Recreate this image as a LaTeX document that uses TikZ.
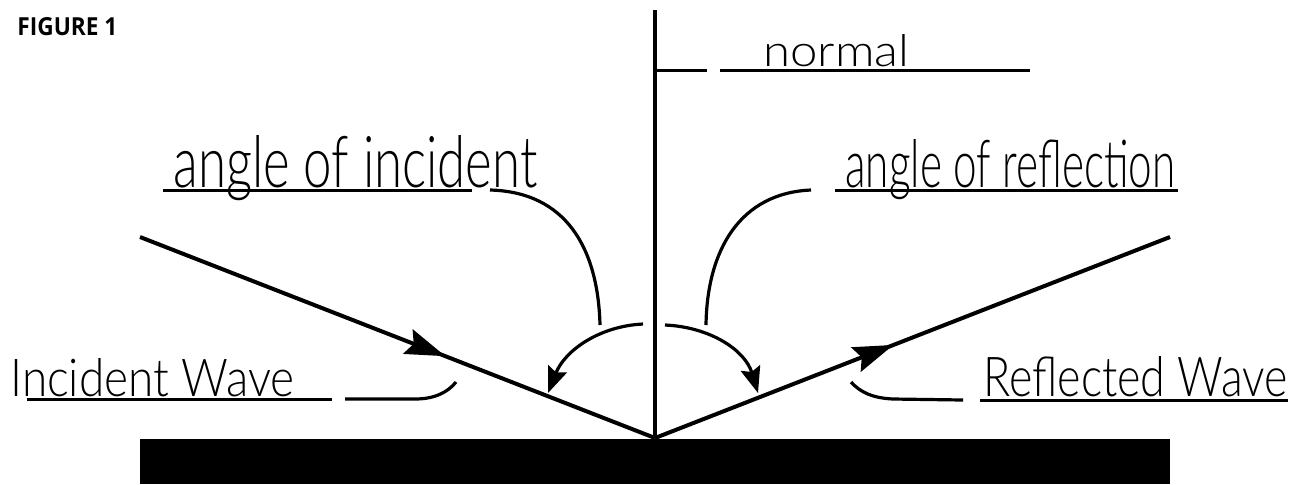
\documentclass[tikz,border=0pt]{standalone}
\usepackage{fontspec}
\setmainfont{Lato}
\newfontfamily\handfont{Lato Light}
\newfontfamily\figfont{Open Sans}
\usetikzlibrary{arrows.meta,decorations.markings}
\begin{document}
\begin{tikzpicture}[x=0.5pt,y=-0.5pt,
  ray/.style={line width=2pt},
  lbl/.style={line width=1.6pt},
  uline/.style={line width=1.5pt},
  hand/.style={inner sep=0pt, anchor=base west, font=\handfont},
  midarrow/.style={postaction={decorate}, decoration={markings, mark=at position #1 with {\arrow{Stealth[length=20pt,width=13pt,inset=3pt]}}}},
  bend tip/.style={-{Stealth[length=13pt,width=10pt,inset=2pt]}}
]
\useasboundingbox (0,0) rectangle (1293,484);

% surface
\fill[black] (140,439) rectangle (1170,484);

% key points
\coordinate (P) at (655,438);
\coordinate (ntop) at (655,10);
\coordinate (inc) at (140,237);
\coordinate (ref) at (1170,237);

% normal
\draw[line width=1.6pt] (ntop) -- (P);

% rays
\draw[ray, midarrow=0.593] (inc) -- (P);
\draw[ray, midarrow=0.463] (P) -- (ref);

% title
\node[inner sep=0pt, anchor=base west] (fig) at (17,35) {\figfont\bfseries\resizebox{50pt}{9pt}{FIGURE 1}};

% normal label
\coordinate (n1) at (657,70);
\coordinate (n2) at (707,70);
\coordinate (n3) at (720,70);
\coordinate (n4) at (1030,70);
\draw[uline] (n1) -- (n2);
\draw[uline] (n3) -- (n4);
\node[hand] (tnormal) at (763,66) {\resizebox{73pt}{16pt}{normal}};

% angle of incident label
\coordinate (ai1) at (163,190);
\coordinate (ai2) at (472,190);
\draw[uline] (ai1) -- (ai2);
\node[hand] (tinc) at (173,187) {\resizebox{182pt}{26pt}{angle of incident}};
\coordinate (ci1) at (490,190);
\coordinate (ci2) at (600,325);
\draw[lbl] (ci1) .. controls (566,192) and (598,248) .. (ci2);
% curved arrow to incident ray
\coordinate (ai3) at (643,324);
\coordinate (ai4) at (548,393);
\draw[lbl, bend tip] (ai3) .. controls (600,326) and (565,350) .. (ai4);

% angle of reflection label
\coordinate (ar1) at (835,190);
\coordinate (ar2) at (1178,190);
\draw[uline] (ar1) -- (ar2);
\node[hand] (tref) at (845,187) {\resizebox{165pt}{24pt}{angle of reflection}};
\coordinate (cr1) at (811,190);
\coordinate (cr2) at (706,325);
\draw[lbl] (cr1) .. controls (740,193) and (707,250) .. (cr2);
% curved arrow to reflected ray
\coordinate (ar3) at (665,325);
\coordinate (ar4) at (758,393);
\draw[lbl, bend tip] (ar3) .. controls (710,327) and (745,350) .. (ar4);

% incident wave label
\coordinate (iw1) at (27,399);
\coordinate (iw2) at (332,399);
\draw[uline] (iw1) -- (iw2);
\node[hand] (tiw) at (10,396) {\resizebox{142pt}{19pt}{Incident Wave}};
\coordinate (iw3) at (345,399);
\coordinate (iw4) at (415,399);
\coordinate (iw5) at (456,382);
\draw[lbl] (iw3) -- (iw4) .. controls (435,399) and (448,392) .. (iw5);

% reflected wave label
\coordinate (rw1) at (980,400);
\coordinate (rw2) at (1288,400);
\draw[uline] (rw1) -- (rw2);
\node[hand] (trw) at (983,396) {\resizebox{152pt}{20pt}{Reflected Wave}};
\coordinate (rw3) at (963,400);
\coordinate (rw4) at (893,399);
\coordinate (rw5) at (851,382);
\draw[lbl] (rw3) -- (rw4) .. controls (872,398) and (860,392) .. (rw5);
\end{tikzpicture}
\end{document}
